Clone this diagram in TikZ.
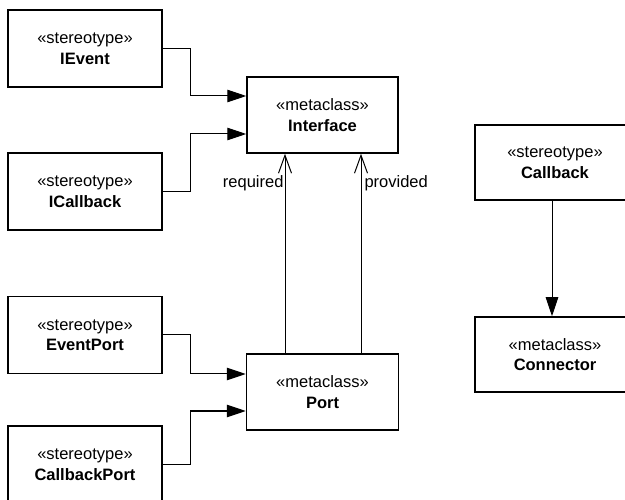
\documentclass[tikz,border=0pt]{standalone}
\usepackage{fontspec}
\setmainfont{Liberation Sans}
\usetikzlibrary{arrows.meta}
\begin{document}
\begin{tikzpicture}[x=1pt,y=-1pt,
  umlbox/.style={draw,line width=1.5pt,rectangle,minimum width=154pt,minimum height=77pt,
    align=center,font=\fontsize{16.5}{20.5}\selectfont,inner sep=0pt},
  inh/.style={line width=1pt,-{Triangle[length=19pt,width=12.5pt]}},
  assoc/.style={line width=1pt,-{Straight Barb[length=18pt,width=13pt,line width=1pt]}},
  lbl/.style={font=\fontsize{16.5}{19}\selectfont,inner sep=1pt}]
\useasboundingbox[fill=white] (0,0) rectangle (625,500);
\node[umlbox] (ievent) at (85,48.5) {«stereotype»\\\textbf{IEvent}};
\node[umlbox] (icallback) at (85,191.5) {«stereotype»\\\textbf{ICallback}};
\node[umlbox] (eventport) at (85,335) {«stereotype»\\\textbf{EventPort}};
\node[umlbox] (callbackport) at (85,464.5) {«stereotype»\\\textbf{CallbackPort}};
\node[umlbox,minimum width=151pt,minimum height=76pt] (interface) at (322.5,115) {«metaclass»\\\textbf{Interface}};
\node[umlbox,minimum width=152pt,minimum height=76pt] (port) at (322.5,392) {«metaclass»\\\textbf{Port}};
\node[umlbox,minimum width=160pt,minimum height=75pt] (callback) at (555,162.5) {«stereotype»\\\textbf{Callback}};
\node[umlbox,minimum width=160pt,minimum height=75pt] (connector) at (555,354.5) {«metaclass»\\\textbf{Connector}};
\draw[inh] (ievent.east) -- ++(28,0) |- ([yshift=19pt]interface.west);
\draw[inh] (icallback.east) -- ++(28,0) |- ([yshift=-19pt]interface.west);
\draw[inh] (eventport.east) -- ++(28,0) |- ([yshift=18pt]port.west);
\draw[inh] (callbackport.east) -- ++(28,0) |- ([yshift=-19pt]port.west);
\draw[assoc] ([xshift=-37.5pt]port.north) -- node[lbl,pos=0.85,left=0pt] {required} ([xshift=-37.5pt]interface.south);
\draw[assoc] ([xshift=38.5pt]port.north) -- node[lbl,pos=0.85,right=2pt] {provided} ([xshift=38.5pt]interface.south);
\draw[inh] ([xshift=-3pt]callback.south) -- ([xshift=-3pt]connector.north);
\end{tikzpicture}
\end{document}
